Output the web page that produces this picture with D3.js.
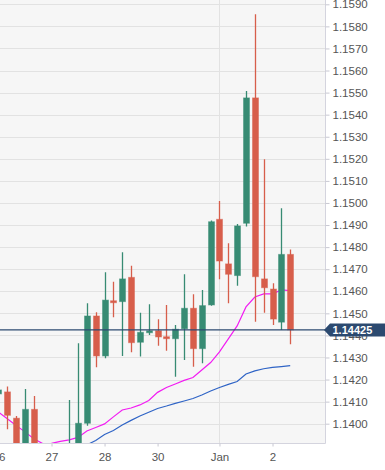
<!DOCTYPE html>
<html>
<head>
<meta charset="utf-8">
<script src="https://cdn.jsdelivr.net/npm/d3@7"></script>
<style>
  body{margin:0;background:#fff}
  svg{display:block;font-family:"Liberation Sans",Arial,sans-serif}
</style>
</head>
<body>
<div id="chart"></div>
<script>
// 4h candles, index -1 is the half hidden one at the left edge
var idx = d3.range(-1, 33)
var opens  = [1.14135,1.14144,1.14025,1.1389,1.14065,1.1389,1.1383,1.1389,1.1385,1.1389,1.14002,1.14488,1.14307,1.14557,1.14553,1.14663,1.14369,1.14412,1.14421,1.14394,1.14385,1.1443,1.14523,1.1434,1.14538,1.14926,1.14724,1.14671,1.14908,1.15476,1.14656,1.1461,1.1446,1.14767]
var highs  = [1.14162,1.14168,1.14035,1.14157,1.14126,1.1390,1.1389,1.13912,1.14107,1.14364,1.14546,1.14505,1.14686,1.14643,1.14777,1.14715,1.14503,1.14541,1.14473,1.14538,1.14447,1.14677,1.14586,1.14606,1.1492,1.15009,1.14817,1.14905,1.15507,1.15855,1.15198,1.14636,1.14976,1.14789]
var lows   = [1.14126,1.13975,1.1388,1.1388,1.1387,1.1378,1.1378,1.1382,1.1380,1.1387,1.13991,1.14256,1.14296,1.14482,1.14307,1.14324,1.14304,1.14402,1.14353,1.14331,1.14213,1.14289,1.14258,1.14274,1.14534,1.14654,1.14546,1.14625,1.14893,1.14462,1.14503,1.14447,1.14425,1.1436]
var closes = [1.14153,1.14038,1.1390,1.14065,1.1389,1.1383,1.1386,1.1385,1.1389,1.14002,1.14488,1.14307,1.1456,1.14548,1.14656,1.14367,1.14414,1.14421,1.14393,1.14385,1.14428,1.14523,1.1434,1.14535,1.14915,1.14737,1.14677,1.14896,1.15476,1.14666,1.14616,1.14474,1.14767,1.14425]
// moving averages
var maFast = [1.14053,1.14022,1.13992,1.13963,1.13932,1.1391,1.13911,1.1392,1.13927,1.13938,1.13967,1.13983,1.13999,1.14031,1.14062,1.14071,1.14085,1.14105,1.14142,1.14164,1.1418,1.14196,1.14209,1.14243,1.14277,1.14325,1.14384,1.14443,1.14529,1.14574,1.14588,1.14588,1.14606,1.14603]
var maSlow = [null,null,null,null,null,null,null,null,null,1.1388,1.13904,1.13924,1.13951,1.13969,1.13994,1.14015,1.14035,1.14052,1.14069,1.1408,1.14092,1.14103,1.14114,1.1413,1.14148,1.14164,1.14178,1.14191,1.14225,1.14239,1.14249,1.14255,1.14259,1.14263]

var tickIdx = [-1, 5, 11, 17, 24, 30]
var tickLabels = ['26', '27', '28', '30', 'Jan', '2']
var yTicks = [1.1400,1.1410,1.1420,1.1430,1.1440,1.1450,1.1460,1.1470,1.1480,1.1490,1.1500,1.1510,1.1520,1.1530,1.1540,1.1550,1.1560,1.1570,1.1580,1.1590]
var lastPrice = 1.14425

var width = 385, height = 470
var plotW = 325.5, plotH = 443.5
var up = '#378b73', down = '#d75e4b'

var svg = d3.select('#chart').append('svg')
  .attr('width', width).attr('height', height)

var x = d3.scaleLinear().domain([-1, 32]).range([-1.54, 290.2])
var y = d3.scaleLinear().domain([1.1400, 1.1590]).range([423.7, 4.3])

svg.append('rect').attr('width', plotW).attr('height', plotH).attr('fill', '#f6f6f6')

svg.append('clipPath').attr('id', 'clip')
  .append('rect').attr('width', plotW).attr('height', plotH)

// grid
svg.append('g').selectAll('line').data(yTicks).enter().append('line')
  .attr('x1', 0).attr('x2', plotW)
  .attr('y1', function(d){ return Math.round(y(d)) + 0.5 })
  .attr('y2', function(d){ return Math.round(y(d)) + 0.5 })
  .attr('stroke', '#e2e2e2')

svg.append('line')
  .attr('x1', Math.round(x(24)) + 0.5).attr('x2', Math.round(x(24)) + 0.5)
  .attr('y1', 0).attr('y2', plotH)
  .attr('stroke', '#e2e2e2')

var plot = svg.append('g').attr('clip-path', 'url(#clip)')

// moving averages
var line = d3.line()
  .defined(function(d){ return d[1] != null })
  .x(function(d){ return x(d[0]) })
  .y(function(d){ return y(d[1]) })

plot.append('path')
  .datum(idx.map(function(d, i){ return [d, maSlow[i]] }))
  .attr('d', line).attr('fill', 'none')
  .attr('stroke', '#2f64c6').attr('stroke-width', 1.2)

plot.append('path')
  .datum(idx.map(function(d, i){ return [d, maFast[i]] }))
  .attr('d', line).attr('fill', 'none')
  .attr('stroke', '#f21cf2').attr('stroke-width', 1.2)

// candles
var candles = plot.selectAll('g.candle').data(idx).enter().append('g')

candles.append('line')
  .attr('x1', function(d){ return Math.round(x(d)) + 0.5 })
  .attr('x2', function(d){ return Math.round(x(d)) + 0.5 })
  .attr('y1', function(d, i){ return y(highs[i]) })
  .attr('y2', function(d, i){ return y(lows[i]) })
  .attr('stroke', function(d, i){ return closes[i] >= opens[i] ? up : down })
  .attr('stroke-width', 1.3)

candles.append('rect')
  .attr('x', function(d){ return Math.round(x(d)) - 2.5 })
  .attr('width', 6)
  .attr('y', function(d, i){ return y(Math.max(opens[i], closes[i])) })
  .attr('height', function(d, i){ return Math.max(1.5, Math.abs(y(opens[i]) - y(closes[i]))) })
  .attr('fill', function(d, i){ return closes[i] >= opens[i] ? up : down })
  .attr('stroke', function(d, i){ return closes[i] >= opens[i] ? up : down })
  .attr('stroke-opacity', 0.45)
  .attr('stroke-width', 1)

// last price line
plot.append('line')
  .attr('x1', 0).attr('x2', plotW)
  .attr('y1', y(lastPrice)).attr('y2', y(lastPrice))
  .attr('stroke', '#2c4a70').attr('stroke-width', 1.4)

// borders
svg.append('line').attr('x1', plotW).attr('x2', plotW).attr('y1', 0).attr('y2', plotH)
  .attr('stroke', '#d4d4de')
svg.append('line').attr('x1', 0).attr('x2', plotW).attr('y1', plotH).attr('y2', plotH)
  .attr('stroke', '#d4d4de')

// right axis
var yAxis = svg.append('g')
  .attr('transform', 'translate(' + plotW + ',0)')
  .call(d3.axisRight(y).tickValues(yTicks).tickFormat(d3.format('.4f')).tickSize(4).tickPadding(3))
yAxis.select('.domain').remove()
yAxis.selectAll('line').attr('stroke', '#c8c8d2')
yAxis.selectAll('text').attr('fill', '#555').style('font-size', '11.5px')

// bottom axis
var xAxis = svg.append('g')
  .attr('transform', 'translate(0,' + plotH + ')')
  .call(d3.axisBottom(x).tickValues(tickIdx)
    .tickFormat(function(d, i){ return tickLabels[i] }).tickSize(3).tickPadding(6))
xAxis.select('.domain').remove()
xAxis.selectAll('line').attr('stroke', '#c8c8d2')
xAxis.selectAll('text').attr('fill', '#555').style('font-size', '11.5px')

// price tag
var py = y(lastPrice)
svg.append('path')
  .attr('d', 'M324,' + py + 'L330,' + (py - 6.5) + 'L385,' + (py - 6.5) + 'L385,' + (py + 6.5) + 'L330,' + (py + 6.5) + 'Z')
  .attr('fill', '#2c4a70')
svg.append('text')
  .attr('x', 332.5).attr('y', py + 4)
  .attr('fill', '#fff').attr('font-weight', 'bold').style('font-size', '11px')
  .text(d3.format('.5f')(lastPrice))
</script>
</body>
</html>
